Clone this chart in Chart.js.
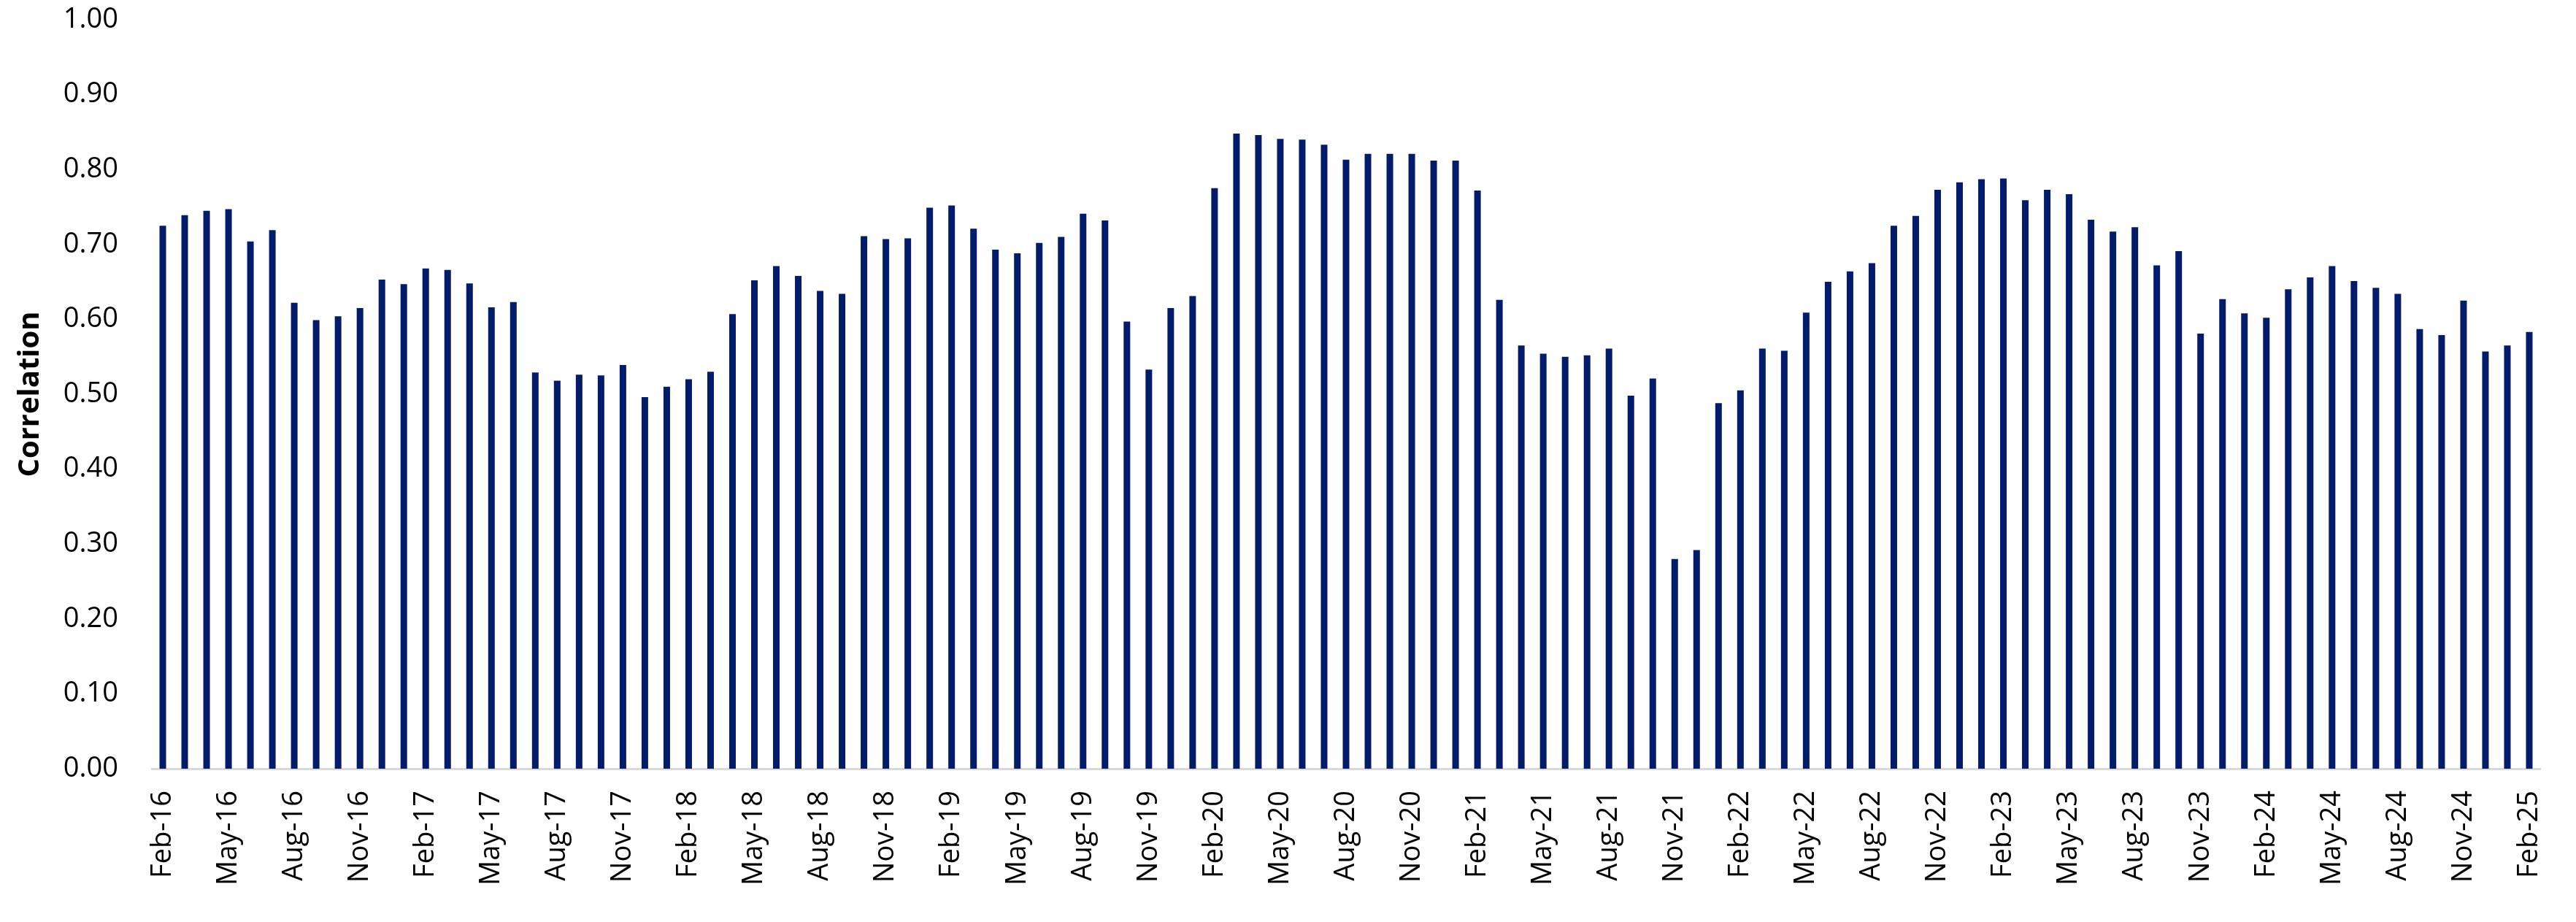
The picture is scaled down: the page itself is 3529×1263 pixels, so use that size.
<!DOCTYPE html>
<html>
<head>
<meta charset="utf-8">
<script src="https://cdn.jsdelivr.net/npm/chart.js@4"></script>
<style>
  html, body { margin: 0; padding: 0; background: #fff; }
  #wrap { width: 3529px; height: 1263px; }
</style>
</head>
<body>
<div id="wrap"><canvas id="chart" width="3529" height="1263"></canvas></div>
<script>
const months = ["Jan", "Feb", "Mar", "Apr", "May", "Jun", "Jul", "Aug", "Sep", "Oct", "Nov", "Dec"];

// Feb-16 .. Feb-25, monthly
const labels = [];
for (let y = 16; y <= 25; y++) {
  for (let m = 0; m < 12; m++) {
    if (y === 16 && m < 1) continue;
    if (y === 25 && m > 1) continue;
    labels.push(months[m] + "-" + y);
  }
}

const correlation = [
  // 2016 Feb-Dec
  0.725, 0.739, 0.745, 0.747, 0.704, 0.719, 0.622, 0.599, 0.604, 0.615, 0.653,
  // 2017
  0.647, 0.668, 0.666, 0.648, 0.616, 0.623, 0.529, 0.518, 0.526, 0.525, 0.539, 0.496,
  // 2018
  0.510, 0.520, 0.530, 0.607, 0.652, 0.671, 0.658, 0.638, 0.634, 0.711, 0.707, 0.708,
  // 2019
  0.749, 0.752, 0.721, 0.693, 0.688, 0.702, 0.710, 0.741, 0.732, 0.597, 0.533, 0.615,
  // 2020
  0.631, 0.775, 0.848, 0.846, 0.841, 0.840, 0.833, 0.813, 0.821, 0.821, 0.821, 0.812,
  // 2021
  0.812, 0.772, 0.626, 0.565, 0.554, 0.550, 0.552, 0.561, 0.498, 0.521, 0.280, 0.292,
  // 2022
  0.488, 0.505, 0.561, 0.558, 0.609, 0.650, 0.664, 0.675, 0.725, 0.738, 0.773, 0.783,
  // 2023
  0.787, 0.788, 0.759, 0.773, 0.767, 0.733, 0.717, 0.723, 0.672, 0.691, 0.581, 0.627,
  // 2024
  0.608, 0.602, 0.640, 0.656, 0.671, 0.651, 0.642, 0.634, 0.587, 0.579, 0.625, 0.557,
  // 2025 Jan-Feb
  0.565, 0.583
];

const yTicks = [0, 0.1, 0.2, 0.3, 0.4, 0.5, 0.6, 0.7, 0.8, 0.9, 1.0];

Chart.defaults.font.family = "'Open Sans', 'Noto Sans', sans-serif";
Chart.defaults.color = "#000";

new Chart(document.getElementById("chart"), {
  type: "bar",
  data: {
    labels: labels,
    datasets: [
      {
        label: "Correlation",
        data: correlation,
        backgroundColor: "#021b6b",
        barPercentage: 0.3,
        categoryPercentage: 1.0,
      },
    ],
  },
  options: {
    responsive: false,
    animation: false,
    devicePixelRatio: 1,
    layout: { padding: { top: 0, right: 49, left: 0, bottom: 0 } },
    plugins: {
      legend: { display: false },
      tooltip: { enabled: false },
    },
    scales: {
      x: {
        grid: { display: false, drawTicks: false },
        border: { display: true, color: "#d9d9d9", width: 3 },
        ticks: {
          autoSkip: false,
          maxRotation: 90,
          minRotation: 90,
          padding: 30,
          font: { size: 38 },
          callback: (value, index) => (index % 3 === 0 ? labels[index] : ""),
        },
        afterFit: (scale) => {
          scale.height = 210;
          scale.paddingLeft = 0;
          scale.paddingRight = 0;
        },
      },
      y: {
        min: 0,
        max: 1,
        afterBuildTicks: (scale) => {
          scale.ticks = yTicks.map((v) => ({ value: v }));
        },
        grid: { display: false, drawTicks: false },
        border: { display: false },
        ticks: {
          padding: 46,
          font: { size: 38 },
          callback: (value) => Number(value).toFixed(2),
        },
        title: {
          display: true,
          text: "Correlation",
          font: { size: 40, weight: "bold" },
          padding: { top: 18, bottom: 0 },
        },
        afterFit: (scale) => {
          scale.width = 208;
          scale.paddingTop = 27;
          scale.paddingBottom = 0;
        },
      },
    },
  },
});
</script>
</body>
</html>
